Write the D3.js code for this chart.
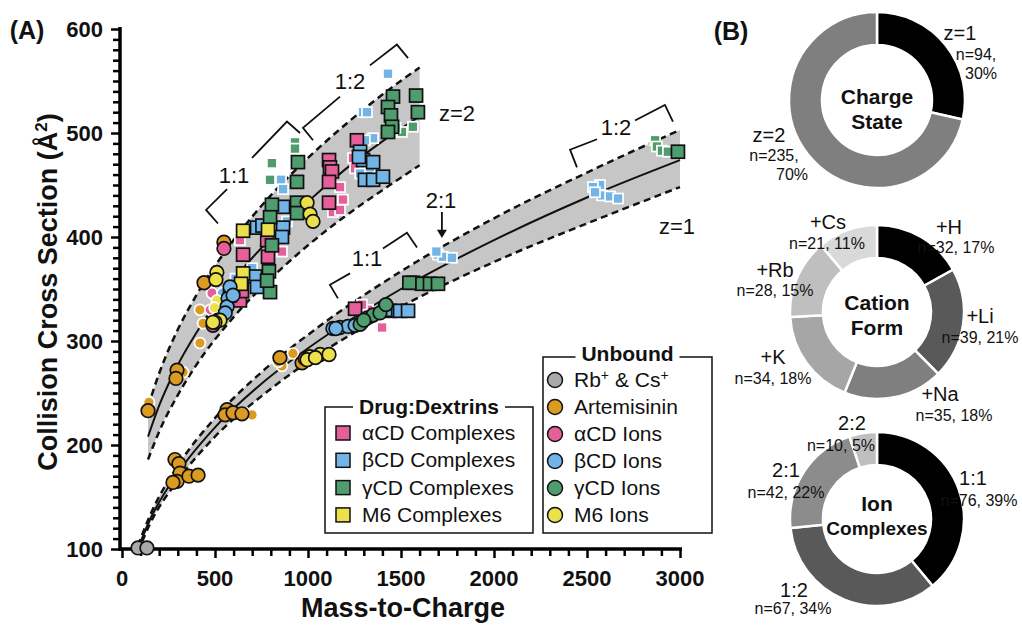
<!DOCTYPE html>
<html><head><meta charset="utf-8">
<script src="https://cdn.jsdelivr.net/npm/d3@7"></script>
<style>body{margin:0;background:#fff}svg{display:block}text{font-family:"Liberation Sans",Arial,sans-serif;fill:#111}</style>
</head><body><svg id="c" width="1022" height="625"></svg>
<script>
// ---------- DATA ----------
// [m/z, CCS, outlined(1) / faint(0)]
const alphaComplexes = [[1263,493,1],[1113,474,1],[1118,467,1],[1129,463,1],[1113,453,1],[1113,433,1],[651,383,1],[785,381,1],[780,397,1],[634,339,1],[1253,331,1],[645,348,1],
  [1172,448,0],[1188,436,0],[1134,424,0],[1172,426,0],[1242,476,0],[1253,466,0],[634,397,0],[860,386,0],[1323,330,0],[1398,313,0],[1290,335,0],[769,399,0]];
const betaComplexes = [[1280,482,1],[1296,474,1],[1350,472,1],[1306,455,1],[1350,455,1],[1403,458,1],[1274,477,1],[866,429,1],[726,409,1],[866,409,1],[860,400,1],[715,362,1],[726,352,1],[597,351,1],[581,344,1],[1441,329,1],[1495,329,1],[1538,329,1],[1415,330,1],[755,411,1],
  [1430,557,0],[1296,520,0],[1317,520,0],[1350,495,0],[1306,493,0],[1333,467,0],[1280,461,0],[855,455,0],[866,446,0],[887,415,0],[1699,383,0],[1726,381,0],[1774,380,0],[1690,386,0],[2570,450,0],[2532,448,0],[2581,440,0],[2624,439,0],[2667,437,0],[2543,443,0],[700,370,0],[610,360,0]];
const gammaComplexes = [[1457,535,1],[1581,536,1],[1591,520,1],[1430,525,1],[1446,517,1],[1452,506,1],[1430,501,1],[946,472,1],[941,453,1],[806,431,1],[941,433,1],[941,423,1],[796,419,1],[806,392,1],[790,367,1],[796,347,1],[780,358,1],[1565,356,1],[1613,355,1],[1656,355,1],[1699,355,1],[1545,356,1],[2989,482,1],
  [1505,501,0],[1564,506,0],[930,491,0],[930,485,0],[806,471,0],[796,455,0],[2866,493,0],[2876,487,0],[2903,483,0],[2935,482,0],[1470,505,0]];
const m6Complexes = [[651,406,1],[785,407,1],[651,365,1],[640,355,1]];
const rbCsIons = [[86,101,1],[134,101,1]];
const artemisininIons = [[441,356,1],[296,272,1],[290,264,1],[140,233,1],[285,186,1],[306,182,1],[312,173,1],[296,165,1],[360,170,1],[409,171,1],[274,164,1],[565,234,1],[554,229,1],[597,231,1],[645,230,1],[849,284,1],[968,279,1],[548,395,1],
  [419,330,0],[436,317,0],[419,298,0],[328,270,0],[145,241,0],[699,229,0],[860,276,0],[840,280,0],[919,288,0]];
const alphaIons = [[548,389,1],[489,315,1],[985,283,1],[484,346,0],[475,330,0]];
const betaIons = [[570,341,1],[565,333,1],[1134,312,1],[1172,313,1],[1215,314,1],[1253,315,1],[1150,312,1],[581,352,1],[597,344,1],[555,327,1],[540,346,0]];
const gammaIons = [[1290,318,1],[1317,322,1],[1350,325,1],[1387,327,1],[1419,335,1],[1280,316,1],[1300,320,1]];
const m6Ions = [[995,433,1],[1011,422,1],[1027,415,1],[510,366,1],[505,359,1],[516,320,1],[527,320,1],[500,318,1],[489,318,1],[1011,285,1],[1065,287,1],[1113,287,1],[995,282,1],[1040,284,1],[510,339,0],[498,332,0]];

// fitted trend + prediction bands: [m/z, CCS]
const z2Fit   = [[140,208],[200,238],[300,277],[400,308],[600,359],[800,399],[1000,434],[1200,465],[1400,492],[1600,516]];
const z2Upper = [[140,237],[200,269],[300,311],[400,344],[600,397],[800,440],[1000,476],[1200,508],[1400,537],[1600,563]];
const z2Lower = [[140,186],[200,213],[300,248],[400,277],[600,323],[800,360],[1000,392],[1200,420],[1400,445],[1600,469]];
const z1Fit   = [[85,100],[150,128],[300,173],[500,217],[750,259],[1000,293],[1500,350],[2000,397],[2500,438],[3000,474]];
const z1Upper = [[85,103],[150,132],[300,180],[500,226],[750,270],[1000,306],[1500,367],[2000,418],[2500,462],[3000,503]];
const z1Lower = [[85,97],[150,124],[300,166],[500,208],[750,247],[1000,280],[1500,333],[2000,376],[2500,413],[3000,448]];

const xTickLabels = [0,500,1000,1500,2000,2500,3000];
const yTickLabels = [100,200,300,400,500,600];

const chargeLabels = ["z=1","z=2"], chargeCounts = [94,235], chargePct = [30,70];
const cationLabels = ["+H","+Li","+Na","+K","+Rb","+Cs"], cationCounts = [32,39,35,34,28,21], cationPct = [17,21,18,18,15,11];
const complexLabels = ["1:1","1:2","2:1","2:2"], complexCounts = [76,67,42,10], complexPct = [39,34,22,5];

// ---------- CHART ----------
const svg = d3.select("#c");
const x = d3.scaleLinear().domain([0,3000]).range([122,680]);
const y = d3.scaleLinear().domain([100,600]).range([549,29]);

const C = {a:"#E5609A", b:"#72B4E6", g:"#4F9C6E", m:"#EDE14B", art:"#DB9A22", gray:"#A9A9A9"};

function band(up, lo){
  const area = d3.area().x(d=>x(d[0])).y0((d,i)=>y(lo[i][1])).y1(d=>y(d[1])).curve(d3.curveMonotoneX);
  svg.append("path").datum(up).attr("d",area).attr("fill","#c6c6c6");
}
band(z2Upper,z2Lower); band(z1Upper,z1Lower);
const ln = d3.line().x(d=>x(d[0])).y(d=>y(d[1])).curve(d3.curveMonotoneX);
[z2Upper,z2Lower,z1Upper,z1Lower].forEach(c=>svg.append("path").datum(c).attr("d",ln).attr("fill","none").attr("stroke","#111").attr("stroke-width",2.5).attr("stroke-dasharray","7,4.5"));
[z2Fit,z1Fit].forEach(c=>svg.append("path").datum(c).attr("d",ln).attr("fill","none").attr("stroke","#111").attr("stroke-width",2));

// axes
const gx = svg.append("g").attr("transform","translate(0,549)");
gx.call(d3.axisBottom(x).tickValues(d3.range(0,3001,100)).tickSize(7).tickFormat(""));
gx.selectAll(".tick line").attr("stroke","#000").attr("stroke-width",2.5).attr("y2",d=>d%500===0?9:7);
gx.select(".domain").remove();
gx.append("line").attr("x1",120).attr("x2",682).attr("stroke","#000").attr("stroke-width",3.5);
gx.selectAll(".lbl").data(xTickLabels).enter().append("text").attr("x",d=>x(d)).attr("y",37).attr("text-anchor","middle")
  .attr("font-weight","bold").attr("font-size",22).text(d=>d);
const gy = svg.append("g").attr("transform","translate(120,0)");
gy.call(d3.axisLeft(y).tickValues(d3.range(100,601,10)).tickSize(7).tickFormat(""));
gy.selectAll(".tick line").attr("stroke","#000").attr("stroke-width",2.5).attr("x2",d=>d%100===0?-9:-7);
gy.select(".domain").remove();
gy.append("line").attr("y1",27).attr("y2",551).attr("stroke","#000").attr("stroke-width",3.5);
gy.selectAll(".lbl").data(yTickLabels).enter().append("text").attr("x",-17).attr("y",d=>y(d)+8).attr("text-anchor","end")
  .attr("font-weight","bold").attr("font-size",22).text(d=>d);

svg.append("text").attr("x",403).attr("y",617).attr("text-anchor","middle").attr("font-weight","bold").attr("font-size",27).text("Mass-to-Charge");
const yl = svg.append("text").attr("transform","translate(57,292) rotate(-90)").attr("text-anchor","middle").attr("font-weight","bold").attr("font-size",27);
yl.append("tspan").text("Collision Cross Section (Å");
yl.append("tspan").attr("dy",-10).attr("font-size",17).text("2");
yl.append("tspan").attr("dy",10).text(")");
svg.append("text").attr("x",27).attr("y",39).attr("text-anchor","middle").attr("font-weight","bold").attr("font-size",25).text("(A)");
svg.append("text").attr("x",731).attr("y",40).attr("text-anchor","middle").attr("font-weight","bold").attr("font-size",25).text("(B)");

// points
function pts(data,color,shape,faint){
  const d = data.filter(p=>p[2]===(faint?0:1));
  if(shape==="sq"){
    const s = faint?10:13;
    svg.append("g").selectAll("rect").data(d).enter().append("rect")
      .attr("x",p=>x(p[0])-s/2).attr("y",p=>y(p[1])-s/2).attr("width",s).attr("height",s)
      .attr("fill",color).attr("stroke",faint?"#fff":"#111").attr("stroke-width",1.7);
  } else {
    svg.append("g").selectAll("circle").data(d).enter().append("circle")
      .attr("cx",p=>x(p[0])).attr("cy",p=>y(p[1])).attr("r",faint?5.5:6.8)
      .attr("fill",color).attr("stroke",faint?"#fff":"#111").attr("stroke-width",1.7);
  }
}
const series = [[alphaComplexes,C.a,"sq"],[betaComplexes,C.b,"sq"],[gammaComplexes,C.g,"sq"],[m6Complexes,C.m,"sq"],
  [rbCsIons,C.gray,"c"],[artemisininIons,C.art,"c"],[alphaIons,C.a,"c"],[betaIons,C.b,"c"],[gammaIons,C.g,"c"],[m6Ions,C.m,"c"]];
series.forEach(s=>pts(s[0],s[1],s[2],true));
series.forEach(s=>pts(s[0],s[1],s[2],false));

// annotations (data coords)
const brackets = [
  [[[516,413],[452,426],[565,446]],[[699,476],[887,511],[957,500]]],
  [[[1027,493],[973,505],[1172,535]],[[1333,565],[1478,585],[1538,572]]],
  [[[1161,341],[1118,354],[1226,365]],[[1403,389],[1532,404],[1586,390]]],
  [[[2446,467],[2409,484],[2554,494]],[[2758,512],[2919,527],[2962,511]]]
];
const lnStraight = d3.line().x(d=>x(d[0])).y(d=>y(d[1]));
brackets.forEach(b=>b.forEach(seg=>svg.append("path").attr("d",lnStraight(seg)).attr("fill","none").attr("stroke","#111").attr("stroke-width",1.8)));
const annText = [["1:1",602,460],["1:2",1226,550],["z=2",1801,519],["2:1",1715,436],["1:1",1317,380],["1:2",2656,506],["z=1",2984,411]];
svg.append("g").selectAll("text").data(annText).enter().append("text").attr("x",d=>x(d[1])).attr("y",d=>y(d[2])+8)
  .attr("text-anchor","middle").attr("font-size",22).text(d=>d[0]);
svg.append("line").attr("x1",x(1720)).attr("x2",x(1720)).attr("y1",y(424)).attr("y2",y(406)).attr("stroke","#111").attr("stroke-width",1.8);
svg.append("path").attr("d",`M${x(1720)-5},${y(407)} L${x(1720)+5},${y(407)} L${x(1720)},${y(399)} Z`).attr("fill","#111");

// legends
function legendBox(l,r,t,b,title,tw,dyT){
  const cx=(l+r)/2;
  svg.append("path").attr("d",`M${cx-tw/2},${t} L${l},${t} L${l},${b} L${r},${b} L${r},${t} L${cx+tw/2},${t}`)
    .attr("fill","#fff").attr("stroke","#111").attr("stroke-width",1.5);
  svg.append("text").attr("x",cx).attr("y",t+dyT).attr("text-anchor","middle").attr("font-weight","bold").attr("font-size",21).text(title);
}
const legA = [["αCD Complexes",C.a],["βCD Complexes",C.b],["γCD Complexes",C.g],["M6 Complexes",C.m]];
legendBox(325,533,407,533,"Drug:Dextrins",152,7);
legA.forEach((d,i)=>{
  const yy=433+i*27.3;
  svg.append("rect").attr("x",336).attr("y",yy-7).attr("width",14).attr("height",14).attr("fill",d[1]).attr("stroke","#111").attr("stroke-width",1.5);
  svg.append("text").attr("x",362).attr("y",yy+7).attr("font-size",21).text(d[0]);
});
const legB = [["Rb|+| & Cs|+",C.gray],["Artemisinin",C.art],["αCD Ions",C.a],["βCD Ions",C.b],["γCD Ions",C.g],["M6 Ions",C.m]];
legendBox(543,712,357,533,"Unbound",104,4);
legB.forEach((d,i)=>{
  const yy=380+i*27;
  svg.append("circle").attr("cx",555).attr("cy",yy).attr("r",7.5).attr("fill",d[1]).attr("stroke","#111").attr("stroke-width",1.5);
  const t=svg.append("text").attr("x",574).attr("y",yy+7).attr("font-size",21);
  const parts=d[0].split("|");
  parts.forEach((p,k)=>{ if(p==="+") t.append("tspan").attr("dy",-7).attr("font-size",14).text("+");
    else { const sp=t.append("tspan").text(p); if(k>0) sp.attr("dy",7);} });
});

// donuts
function donut(cx,cy,rIn,rOut,counts,colors,center,labels){
  const arcs=d3.pie().sort(null)(counts);
  const arc=d3.arc().innerRadius(rIn).outerRadius(rOut);
  const g=svg.append("g").attr("transform",`translate(${cx},${cy})`);
  g.selectAll("path").data(arcs).enter().append("path").attr("d",arc).attr("fill",(d,i)=>colors[i]).attr("stroke","#fff").attr("stroke-width",2.5);
  center.forEach(c=>g.append("text").attr("x",0).attr("y",c[1]).attr("text-anchor","middle").attr("font-weight","bold").attr("font-size",c[2]).text(c[0]));
  labels.forEach(l=>svg.append("text").attr("x",l[1]).attr("y",l[2]).attr("text-anchor","middle").attr("font-size",l[3]).text(l[0]));
}
donut(877,100,55,88,chargeCounts,["#000","#7f7f7f"],[["Charge",4,21],["State",29,21]],[
  [chargeLabels[0],960,40,20],[`n=${chargeCounts[0]},`,976,60,16],[`${chargePct[0]}%`,981,79,16],
  [chargeLabels[1],769,142,20],[`n=${chargeCounts[1]},`,774,161,16],[`${chargePct[1]}%`,792,180,16]]);
donut(877,312,54,87,cationCounts,["#000","#595959","#7f7f7f","#a6a6a6","#bfbfbf","#d9d9d9"],[["Cation",-2,21],["Form",23,21]],[
  [cationLabels[0],949,234,20],[`n=${cationCounts[0]}, ${cationPct[0]}%`,956,253,16],
  [cationLabels[1],980,323,20],[`n=${cationCounts[1]}, ${cationPct[1]}%`,980,343,16],
  [cationLabels[2],940,401,20],[`n=${cationCounts[2]}, ${cationPct[2]}%`,954,421,16],
  [cationLabels[3],773,364,20],[`n=${cationCounts[3]}, ${cationPct[3]}%`,773,384,16],
  [cationLabels[4],775,277,20],[`n=${cationCounts[4]}, ${cationPct[4]}%`,775,296,16],
  [cationLabels[5],828,229,20],[`n=${cationCounts[5]}, ${cationPct[5]}%`,827,249,16]]);
donut(877,519,54,87,complexCounts,["#000","#595959","#8c8c8c","#bfbfbf"],[["Ion",-8,21],["Complexes",16,19]],[
  [complexLabels[0],973,485,20],[`n=${complexCounts[0]}, ${complexPct[0]}%`,979,506,16],
  [complexLabels[1],794,597,20],[`n=${complexCounts[1]}, ${complexPct[1]}%`,793,614,16],
  [complexLabels[2],786,477,20],[`n=${complexCounts[2]}, ${complexPct[2]}%`,786,498,16],
  [complexLabels[3],852,430,20],[`n=${complexCounts[3]}, ${complexPct[3]}%`,841,451,16]]);
</script></body></html>
